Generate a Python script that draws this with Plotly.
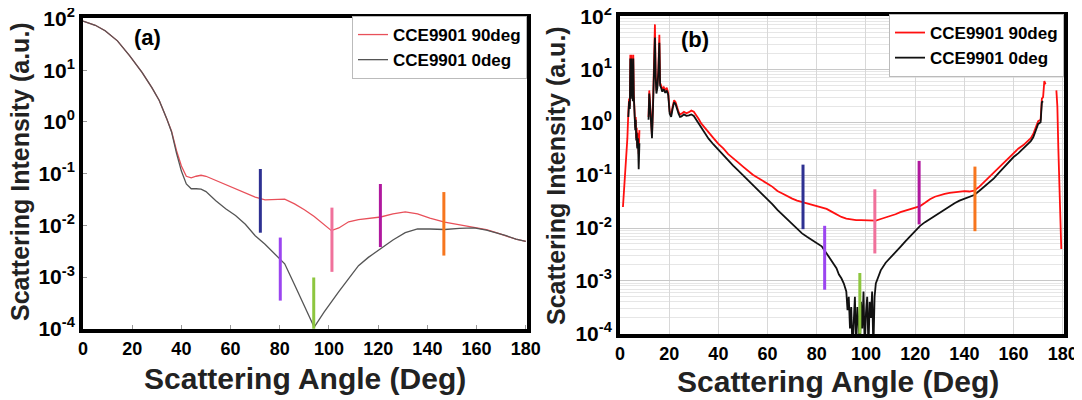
import plotly.graph_objects as go

# ---------------- Panel (a) data ----------------
a_angle = [0, 5, 9, 14, 19, 24, 28, 31, 34, 36, 38, 40, 42, 44, 46, 48, 50, 54, 58, 62,
           66, 70, 74, 78, 82, 86, 90, 94, 98, 101, 104, 108, 112, 116, 121, 126, 131, 136, 141, 147,
           153, 159, 164, 168, 172, 176, 180]
a_90deg = [89, 74, 58, 37, 19, 9.1, 4.6, 2.6, 1.17, 0.66, 0.28, 0.14, 0.089, 0.083, 0.089, 0.093, 0.089, 0.074, 0.062, 0.051,
           0.043, 0.035, 0.031, 0.032, 0.032, 0.026, 0.020, 0.0148, 0.0105, 0.0079, 0.0089, 0.0117, 0.0129, 0.0135, 0.0145, 0.0166, 0.0182, 0.0166, 0.0138, 0.0115,
           0.0102, 0.0093, 0.0083, 0.0072, 0.0063, 0.0054, 0.0049]
a_0deg = [89, 74, 58, 37, 19, 9.1, 4.6, 2.6, 1.17, 0.64, 0.25, 0.112, 0.063, 0.051, 0.051, 0.050, 0.045, 0.030, 0.021, 0.0155,
          0.0105, 0.0063, 0.0043, 0.0028, 0.0018, 7.1e-4, 2.8e-4, 1.07e-4, 2.1e-4, 3.4e-4, 5.2e-4, 9.3e-4, 1.66e-3, 2.4e-3, 3.5e-3, 5.2e-3, 7.2e-3, 8.5e-3, 8.5e-3, 8.3e-3,
          8.7e-3, 8.9e-3, 8.1e-3, 0.0072, 0.0063, 0.0054, 0.0049]

a_mark_angle = [72.1, 80.2, 93.8, 101.2, 120.9, 146.7]
a_mark_low = [0.0072, 3.5e-4, 1.0e-4, 1.26e-3, 3.8e-3, 2.6e-3]
a_mark_high = [0.123, 5.8e-3, 9.8e-4, 0.022, 0.063, 0.044]

# ---------------- Panel (b) data ----------------
b_angle_90 = [1.2, 1.8, 2.4, 3.0, 3.4, 3.7, 4.0, 4.2, 4.4, 4.6, 4.8, 5.0, 5.2, 5.4, 5.6, 5.8, 6.0, 6.2, 6.4, 6.6,
              6.8, 7.0, 7.3, 7.6, 7.9, None,
              11.6, 11.9, 12.3, 12.7, 13.0, 13.4, 13.8, 14.2, 14.5, 14.8, 15.2, 15.6, 16.0, 16.3, 16.7, 17.2, 17.8, 18.4, 19.0, 19.6,
              20.2, 20.8, 21.4, 22.0, 22.6, 23.2, 23.8, 24.4, 25, 26, 27, 28, 29, 30, 31, 32, 33, 34, 35, 36,
              38, 40, 42, 44, 46, 48, 50, 52, 54, 56, 58, 60, 62, 64, 66, 68, 70, 72, 74, 76,
              78, 80, 82, 84, 86, 88, 90, 92, 94, 96, 98, 100, 102, 104, 106, 108, 110, 112, 114, 116,
              118, 120, 122, 124, 126, 128, 130, 132, 134, 136, 138, 140, 142, 144, 146, 148, 150, 152, 154, 156,
              158, 160, 162, 164, 166, 167, 168, 169, 170, 171, 171.5, 172, 172.5, 173, None,
              177.4, 177.8, 178.2, 178.6, 179.0, 179.4]
b_90deg = [0.025, 0.063, 0.2, 0.5, 1.58, 2.8, 2.0, 19, 3.2, 19, 4.0, 10, 2.8, 19, 3.5, 1.58, 2.2, 0.79, 1.26, 0.5,
           0.79, 0.35, 0.63, 0.25, 0.71, None,
           1.26, 4.0, 2.0, 0.63, 0.56, 2.0, 7.9, 71, 7.9, 4.0, 5.0, 10, 45, 5.6, 5.0, 4.2, 4.6, 4.0, 4.5, 3.6,
           1.58, 1.41, 2.0, 2.6, 2.4, 1.9, 1.58, 1.41, 1.45, 1.58, 1.48, 1.55, 1.66, 1.58, 1.38, 1.15, 0.95, 0.83, 0.74, 0.65,
           0.50, 0.39, 0.32, 0.25, 0.204, 0.174, 0.145, 0.12, 0.102, 0.089, 0.079, 0.069, 0.060, 0.050, 0.045, 0.040, 0.036, 0.033, 0.031, 0.0295,
           0.028, 0.026, 0.0245, 0.023, 0.0204, 0.0182, 0.0162, 0.0151, 0.0145, 0.0141, 0.0141, 0.0141, 0.0141, 0.0138, 0.0148, 0.0158, 0.017, 0.0182, 0.020, 0.0214,
           0.023, 0.0245, 0.026, 0.030, 0.035, 0.039, 0.042, 0.044, 0.046, 0.047, 0.048, 0.050, 0.049, 0.051, 0.060, 0.074, 0.091, 0.112, 0.138, 0.17,
           0.214, 0.27, 0.32, 0.37, 0.46, 0.50, 0.60, 0.79, 1.05, 1.12, 2.8, 3.0, 6.0, 5.2, None,
           4.0, 2.0, 0.32, 0.063, 0.0158, 0.004]

b_angle_0 = [3.4, 3.7, 4.0, 4.2, 4.4, 4.6, 4.8, 5.0, 5.2, 5.4, 5.6, 5.8, 6.0, 6.2, 6.4, 6.6, 6.8, 7.0, 7.3, 7.6,
             7.9, None,
             11.6, 11.9, 12.3, 12.7, 13.0, 13.4, 13.8, 14.2, 14.5, 14.8, 15.2, 15.6, 16.0, 16.3, 16.7, 17.2, 17.8, 18.4, 19.0, 19.6,
             20.2, 20.8, 21.4, 22.0, 22.6, 23.2, 23.8, 24.4, 25, 26, 27, 28, 29, 30, 31, 32, 33, 34, 35, 36,
             38, 40, 42, 44, 46, 48, 50, 52, 54, 56, 58, 60, 62, 64, 66, 68, 70, 72, 74, 76,
             78, 80, 82, 84, 86, 88, 89, 90, 91, 92, 92.5, 93, 93.5, 94, 94.5, 95, 95.5, 96, 96.5, 97,
             97.5, 98, 98.5, 99, 99.5, 100, 100.5, 101, 101.5, 102, 102.5, 103, 103.5, 104, 105, 106, 108, 110, 112, 114,
             116, 118, 120, 122, 124, 126, 128, 130, 132, 134, 136, 138, 140, 142, 144, 146, 148, 150, 152, 154,
             156, 158, 160, 162, 164, 166, 167, 168, 169, 170, 171, 171.5, 172]
b_0deg = [1.26, 2.5, 1.78, 16, 2.8, 16, 3.2, 7.9, 2.5, 16, 3.2, 1.41, 2.0, 0.71, 1.12, 0.45, 0.63, 0.32, 0.5, 0.13,
          0.4, None,
          1.12, 3.5, 1.78, 0.56, 0.5, 1.78, 7.1, 40, 7.1, 3.5, 4.5, 8.9, 32, 5.0, 4.5, 3.8, 4.2, 3.6, 4.0, 3.3,
          1.45, 1.26, 1.82, 2.4, 2.2, 1.74, 1.45, 1.26, 1.29, 1.41, 1.32, 1.35, 1.41, 1.32, 1.12, 0.91, 0.76, 0.65, 0.56, 0.49,
          0.38, 0.30, 0.24, 0.19, 0.151, 0.123, 0.100, 0.079, 0.065, 0.052, 0.043, 0.035, 0.028, 0.022, 0.018, 0.0148, 0.0117, 0.0095, 0.0079, 0.0068,
          0.0059, 0.0051, 0.0045, 0.0033, 0.0024, 0.00174, 0.00132, 0.00112, 8.9e-4, 6.3e-4, 2.8e-4, 5.0e-4, 1.26e-4, 3.2e-4, 5e-5, 2.5e-4, 5.0e-4, 5e-5, 3.2e-4, 1.58e-4,
          5e-5, 4.0e-4, 1.26e-4, 6.3e-4, 5e-5, 2.5e-4, 5.0e-4, 5e-5, 4.0e-4, 2.0e-4, 6.3e-4, 5e-5, 5e-4, 8.9e-4, 0.0012, 0.00158, 0.0022, 0.00275, 0.0034, 0.0044,
          0.0056, 0.0071, 0.0089, 0.011, 0.0129, 0.0148, 0.017, 0.0195, 0.023, 0.026, 0.0295, 0.033, 0.036, 0.039, 0.042, 0.050, 0.060, 0.072, 0.087, 0.11,
          0.138, 0.174, 0.22, 0.26, 0.32, 0.40, 0.44, 0.52, 0.69, 0.93, 1.0, 2.4, 2.5]

b_mark_angle = [74.4, 83.2, 97.5, 103.6, 121.6, 144.3]
b_mark_low = [0.0095, 6.8e-4, 1.0e-4, 3.3e-3, 0.0117, 8.7e-3]
b_mark_high = [0.158, 0.011, 1.41e-3, 0.054, 0.186, 0.145]

mark_colors = ["#2E3192", "#9B45F0", "#8DC63F", "#F0719B", "#B0189E", "#F7761E"]

x_ticks = [0, 20, 40, 60, 80, 100, 120, 140, 160, 180]
y_ticks = [1e-4, 1e-3, 1e-2, 1e-1, 1e0, 1e1, 1e2]
y_ticktext = ["10<sup>-4</sup>", "10<sup>-3</sup>", "10<sup>-2</sup>", "10<sup>-1</sup>",
              "10<sup>0</sup>", "10<sup>1</sup>", "10<sup>2</sup>"]
legend_names = ["CCE9901 90deg", "CCE9901 0deg"]

SANS = "Liberation Sans, Arial, sans-serif"
W = 1082
H = 400
OFF = 8  # page body margin offset in the screenshot


def px(x):
    return (x - OFF) / W


def py(y):
    return 1 - (y - OFF) / H


fig = go.Figure()

# panel (a) curves
fig.add_trace(go.Scatter(x=a_angle, y=a_90deg, mode="lines", name=legend_names[0],
                         line=dict(color="#E8505A", width=1.3), xaxis="x", yaxis="y", legend="legend"))
fig.add_trace(go.Scatter(x=a_angle, y=a_0deg, mode="lines", name=legend_names[1],
                         line=dict(color="#555555", width=1.3), xaxis="x", yaxis="y", legend="legend"))
for i, c in enumerate(mark_colors):
    fig.add_trace(go.Scatter(x=[a_mark_angle[i], a_mark_angle[i]], y=[a_mark_low[i], a_mark_high[i]],
                             mode="lines", line=dict(color=c, width=3), showlegend=False,
                             xaxis="x", yaxis="y", hoverinfo="skip"))

# panel (b) curves
fig.add_trace(go.Scatter(x=b_angle_90, y=b_90deg, mode="lines", name=legend_names[0],
                         line=dict(color="#FF1010", width=1.8), xaxis="x2", yaxis="y2", legend="legend2",
                         connectgaps=False))
fig.add_trace(go.Scatter(x=b_angle_0, y=b_0deg, mode="lines", name=legend_names[1],
                         line=dict(color="#111111", width=1.8), xaxis="x2", yaxis="y2", legend="legend2",
                         connectgaps=False))
for i, c in enumerate(mark_colors):
    fig.add_trace(go.Scatter(x=[b_mark_angle[i], b_mark_angle[i]], y=[b_mark_low[i], b_mark_high[i]],
                             mode="lines", line=dict(color=c, width=3), showlegend=False,
                             xaxis="x2", yaxis="y2", hoverinfo="skip"))

xax_common = dict(range=[0, 180.5], tickvals=x_ticks, showline=True, linewidth=4, linecolor="black",
                  mirror=True, zeroline=False, ticklabeloverflow="allow", automargin=False,
                  tickfont=dict(family=SANS, size=18, color="black", weight="bold"))
yax_common = dict(type="log", range=[-4.005, 2.01], tickvals=y_ticks, ticktext=y_ticktext, showline=True,
                  linewidth=4, linecolor="black", mirror=True, zeroline=False, ticklabeloverflow="allow",
                  automargin=False,
                  tickfont=dict(family=SANS, size=21, color="black", weight="bold"))

fig.update_layout(
    width=W, height=H, autosize=False,
    margin=dict(l=0, r=0, t=0, b=0, autoexpand=False),
    paper_bgcolor="white", plot_bgcolor="white",
    xaxis=dict(domain=[px(83), px(527)], anchor="y", showgrid=False,
               ticks="inside", ticklen=4, tickcolor="#999999", **xax_common),
    yaxis=dict(domain=[py(329), py(18)], anchor="x", showgrid=False,
               ticks="inside", ticklen=4, tickcolor="#999999", **yax_common),
    xaxis2=dict(domain=[px(620), px(1064)], anchor="y2", showgrid=True, gridcolor="#D8D8D8",
                gridwidth=1, ticks="", **xax_common),
    yaxis2=dict(domain=[py(334), py(16)], anchor="x2", showgrid=True, gridcolor="#C8C8C8",
                gridwidth=1, ticks="",
                minor=dict(showgrid=True, gridcolor="#E6E6E6", gridwidth=1, dtick="D1"),
                **yax_common),
    legend=dict(x=px(527), xanchor="right", y=py(16), yanchor="top",
                bgcolor="white", bordercolor="#BBBBBB", borderwidth=1, itemwidth=30,
                font=dict(family=SANS, size=17, color="black", weight="bold"),
                tracegroupgap=0, traceorder="normal"),
    legend2=dict(x=px(1064), xanchor="right", y=py(14), yanchor="top",
                 bgcolor="white", bordercolor="#BBBBBB", borderwidth=1, itemwidth=30,
                 font=dict(family=SANS, size=17, color="black", weight="bold"),
                 tracegroupgap=0, traceorder="normal"),
    annotations=[
        dict(text="(a)", x=px(147), y=py(38), xref="paper", yref="paper", showarrow=False,
             xanchor="center", yanchor="middle",
             font=dict(family=SANS, size=22, color="black", weight="bold")),
        dict(text="(b)", x=px(695), y=py(39), xref="paper", yref="paper", showarrow=False,
             xanchor="center", yanchor="middle",
             font=dict(family=SANS, size=22, color="black", weight="bold")),
        dict(text="Scattering Intensity (a.u.)", x=px(20), y=py(172), xref="paper", yref="paper",
             showarrow=False, textangle=-90, xanchor="center", yanchor="middle",
             font=dict(family=SANS, size=25, color="#222222", weight="bold")),
        dict(text="Scattering Intensity (a.u.)", x=px(556), y=py(176), xref="paper", yref="paper",
             showarrow=False, textangle=-90, xanchor="center", yanchor="middle",
             font=dict(family=SANS, size=25, color="#222222", weight="bold")),
        dict(text="Scattering Angle (Deg)", x=px(305), y=py(378), xref="paper", yref="paper",
             showarrow=False, xanchor="center", yanchor="middle",
             font=dict(family=SANS, size=30, color="#222222", weight="bold")),
        dict(text="Scattering Angle (Deg)", x=px(838), y=py(381), xref="paper", yref="paper",
             showarrow=False, xanchor="center", yanchor="middle",
             font=dict(family=SANS, size=30, color="#222222", weight="bold")),
    ],
)

fig.write_html("out.html")
